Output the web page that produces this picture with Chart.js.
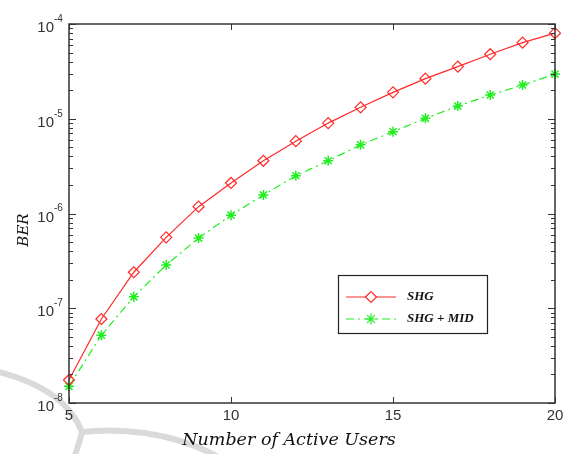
<!DOCTYPE html>
<html>
<head>
<meta charset="utf-8">
<script src="https://cdn.jsdelivr.net/npm/chart.js@4/dist/chart.umd.min.js"></script>
<style>
  html, body { margin: 0; padding: 0; background: #fff; }
  #wrap { width: 567px; height: 454px; position: relative; }
</style>
</head>
<body>
<div id="wrap"><canvas id="ber-chart" width="567" height="454"></canvas></div>
<script>
// data
var users = [5, 6, 7, 8, 9, 10, 11, 12, 13, 14, 15, 16, 17, 18, 19, 20];
var berSHG = [1.75e-8, 7.7e-8, 2.4e-7, 5.6e-7, 1.18e-6, 2.1e-6, 3.6e-6, 5.8e-6, 9.0e-6,
              1.32e-5, 1.9e-5, 2.65e-5, 3.55e-5, 4.8e-5, 6.35e-5, 8.0e-5];
var berSHGMID = [1.5e-8, 5.2e-8, 1.32e-7, 2.86e-7, 5.5e-7, 9.6e-7, 1.57e-6, 2.5e-6, 3.6e-6,
                 5.3e-6, 7.3e-6, 1.01e-5, 1.36e-5, 1.78e-5, 2.27e-5, 2.96e-5];
var seriesNames = ["SHG", "SHG + MID"];
var xTicks = [5, 10, 15, 20];
var yDecades = [-8, -7, -6, -5, -4];

var red = "#ff2a2a";
var green = "#22ee22";

function toPoints(ys) {
  return users.map(function (u, i) { return { x: u, y: ys[i] }; });
}

// faint grey watermark arcs behind the figure
var watermark = {
  id: "watermark",
  beforeDraw: function (chart) {
    var c = chart.ctx;
    c.save();
    c.strokeStyle = "#dadada";
    c.lineWidth = 6;
    c.beginPath();
    c.moveTo(-5, 371);
    c.quadraticCurveTo(65, 388, 82, 432);
    c.quadraticCurveTo(79, 444, 74, 458);
    c.stroke();
    c.beginPath();
    c.moveTo(82, 432);
    c.bezierCurveTo(115, 428, 170, 430, 220, 458);
    c.stroke();
    c.restore();
  }
};

// box, inward ticks, tick labels, axis titles and legend, matlab style
var matlabAxes = {
  id: "matlabAxes",
  afterDraw: function (chart) {
    var c = chart.ctx;
    var a = chart.chartArea;
    var xs = chart.scales.x;
    var ys = chart.scales.y;
    c.save();
    c.strokeStyle = "#333";
    c.lineWidth = 1.5;
    c.strokeRect(a.left, a.top, a.right - a.left, a.bottom - a.top);

    c.lineWidth = 1;
    c.beginPath();
    yDecades.forEach(function (d) {
      for (var k = 1; k <= 9; k++) {
        if (d === -4 && k > 1) break;
        var py = Math.round(ys.getPixelForValue(k * Math.pow(10, d))) + 0.5;
        var len = k === 1 ? 7 : 4;
        c.moveTo(a.left, py); c.lineTo(a.left + len, py);
        c.moveTo(a.right, py); c.lineTo(a.right - len, py);
      }
    });
    xTicks.forEach(function (t) {
      var px = Math.round(xs.getPixelForValue(t)) + 0.5;
      c.moveTo(px, a.bottom); c.lineTo(px, a.bottom - 6);
      c.moveTo(px, a.top); c.lineTo(px, a.top + 6);
    });
    c.stroke();

    // tick labels
    c.fillStyle = "#333";
    c.font = "15px 'Liberation Sans', Arial, sans-serif";
    c.textAlign = "center";
    c.textBaseline = "top";
    xTicks.forEach(function (t) {
      c.fillText(String(t), xs.getPixelForValue(t), a.bottom + 5);
    });
    yDecades.forEach(function (d) {
      var py = ys.getPixelForValue(Math.pow(10, d));
      c.font = "15px 'Liberation Sans', Arial, sans-serif";
      c.textAlign = "right";
      c.textBaseline = "middle";
      c.fillText("10", a.left - 15, py + 4);
      c.font = "10px 'Liberation Sans', Arial, sans-serif";
      c.textAlign = "left";
      c.fillText(String(d), a.left - 15, py - 5);
    });

    // axis titles
    c.font = "italic 17.5px 'DejaVu Serif', 'Liberation Serif', serif";
    c.textAlign = "center";
    c.textBaseline = "middle";
    c.fillStyle = "#111";
    c.fillText("Number of Active Users", 289, 440);
    c.save();
    c.translate(24, 230);
    c.rotate(-Math.PI / 2);
    c.font = "italic 15px 'DejaVu Serif', 'Liberation Serif', serif";
    c.fillText("BER", 0, 0);
    c.restore();

    // legend box
    c.fillStyle = "#fff";
    c.fillRect(338, 275, 149, 58);
    c.strokeStyle = "#222";
    c.lineWidth = 1.2;
    c.strokeRect(338.5, 275.5, 149, 58);
    var rows = [
      { y: 297, color: red, dash: [], style: "rectRot", name: seriesNames[0] },
      { y: 319, color: green, dash: [8, 4, 2, 4], style: "star", name: seriesNames[1] }
    ];
    rows.forEach(function (r) {
      c.strokeStyle = r.color;
      c.lineWidth = 1.2;
      c.setLineDash(r.dash);
      c.beginPath();
      c.moveTo(346, r.y); c.lineTo(396, r.y);
      c.stroke();
      c.setLineDash([]);
      Chart.helpers.drawPoint(c, { pointStyle: r.style, radius: 5.5, borderWidth: 1.2 }, 371, r.y);
      c.fillStyle = "#111";
      c.font = "italic bold 13px 'Liberation Serif', 'DejaVu Serif', serif";
      c.textAlign = "left";
      c.textBaseline = "middle";
      c.fillText(r.name, 407, r.y);
    });
    c.restore();
  }
};

var ctx = document.getElementById("ber-chart");
var berChart = new Chart(ctx, {
  type: "line",
  data: {
    datasets: [{
      label: seriesNames[0],
      data: toPoints(berSHG),
      borderColor: red,
      backgroundColor: "rgba(255,255,255,0)",
      borderWidth: 1.2,
      pointStyle: "rectRot",
      pointRadius: 5.5,
      pointBorderWidth: 1.2,
      pointBorderColor: red,
      pointBackgroundColor: "rgba(255,255,255,0)",
      tension: 0
    }, {
      label: seriesNames[1],
      data: toPoints(berSHGMID),
      borderColor: green,
      backgroundColor: "rgba(255,255,255,0)",
      borderWidth: 1.2,
      borderDash: [8, 4, 2, 4],
      pointStyle: "star",
      pointRadius: 5,
      pointBorderWidth: 1.5,
      pointBorderColor: green,
      pointBackgroundColor: green,
      tension: 0
    }]
  },
  options: {
    responsive: false,
    animation: false,
    clip: false,
    layout: { padding: { left: 69, top: 24, right: 12, bottom: 51 } },
    plugins: {
      legend: { display: false },
      tooltip: { enabled: false }
    },
    scales: {
      x: {
        type: "linear",
        min: 5,
        max: 20,
        display: false
      },
      y: {
        type: "logarithmic",
        min: 1e-8,
        max: 1e-4,
        display: false
      }
    }
  },
  plugins: [watermark, matlabAxes]
});
</script>
</body>
</html>
